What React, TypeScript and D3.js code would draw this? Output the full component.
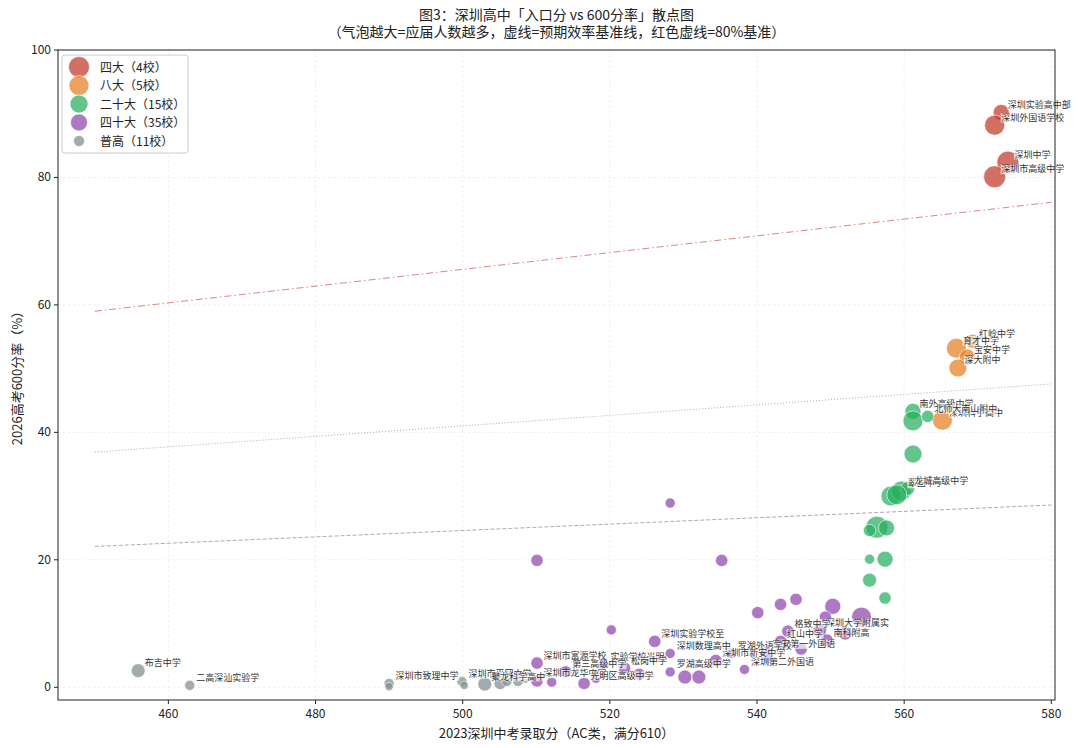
import { scaleLinear, scaleSqrt, line } from "d3";

// 图3：入口分 vs 600分率
const tiers = ["四大", "八大", "二十大", "四十大", "普高"];
const tierCounts = [4, 5, 15, 35, 11];
const tierColors = ["#c0392b", "#e67e22", "#27ae60", "#8e44ad", "#7f8c8d"];
const legendRadius = [10.5, 10, 9, 8.5, 5.5];

// 每所学校：名称(标签), 入口分, 600分率, 应届人数, 档次
const names = [
  "深圳实验高中部", "深圳外国语学校", "深圳中学", "深圳市高级中学",
  "红岭中学", "育才中学", "宝安中学", "深大附中", "深圳科学高中",
  "南外高级中学", "", "北师大南山附中", "", "", "翠园中学", "龙城高级中学", "", "", "", "", "", "", "", "",
  "", "", "", "", "", "", "", "", "",
  "深圳大学附属实", "南科附高", "格致中学", "红山中学", "宝安第一外国语", "深圳第二外国语", "罗湖外语学校", "深圳市新安中学",
  "深圳实验学校至", "深圳数理高中", "罗湖高级中学", "", "", "", "实验学校光明", "深圳市富源学校", "深圳市龙华中学", "",
  "光明区高级中学", "", "松岗中学", "第三高级中学", "", "", "", "",
  "布吉中学", "二高深汕实验学", "深圳市致理中学", "", "深圳市平冈中学", "聚龙科学高中", "", "", "", "", "",
];
const scores = [
  573.2, 572.3, 574.1, 572.3,
  569.3, 567.1, 568.6, 567.3, 565.2,
  561.2, 561.2, 563.2, 561.2, 558.2, 559.6, 560.5, 556.3, 555.3, 557.6, 555.3, 557.4, 555.3, 557.4, 559.0,
  528.2, 510.1, 535.2, 540.1, 543.2, 545.3, 550.3, 549.3, 554.2,
  548.5, 549.5, 544.2, 543.2, 541.2, 538.3, 536.5, 534.4,
  526.1, 528.2, 528.2, 530.2, 532.1, 520.2, 519.2, 510.1, 510.1, 512.1,
  516.5, 518.1, 522.0, 514.0, 524.0, 541.5, 546.0, 552.0,
  455.9, 462.9, 490.0, 490.0, 499.9, 503.0, 505.1, 506.0, 507.5, 500.2, 508.5,
];
const rates = [
  90.2, 88.2, 82.4, 80.1,
  54.3, 53.2, 51.8, 50.1, 41.9,
  43.3, 41.8, 42.5, 36.6, 30.0, 30.8, 31.2, 25.1, 24.6, 25.0, 20.1, 20.1, 16.8, 14.0, 30.2,
  28.9, 19.9, 19.9, 11.7, 13.0, 13.8, 12.7, 11.0, 11.0,
  8.9, 7.4, 8.8, 7.2, 5.6, 2.8, 5.3, 4.2,
  7.2, 5.3, 2.4, 1.6, 1.6, 9.0, 3.6, 3.8, 1.0, 0.8,
  0.6, 1.4, 3.0, 2.4, 2.0, 4.5, 6.0, 8.5,
  2.6, 0.3, 0.6, 0.1, 0.9, 0.5, 0.6, 0.9, 0.9, 0.3, 1.3,
];
const students = [
  560, 880, 1050, 1050,
  420, 860, 560, 700, 860,
  560, 860, 330, 700, 860, 860, 420, 1050, 330, 560, 220, 560, 420, 330, 860,
  220, 330, 330, 330, 330, 330, 560, 330, 860,
  420, 330, 330, 330, 220, 220, 220, 330,
  330, 220, 220, 420, 420, 220, 220, 330, 330, 220,
  330, 220, 330, 330, 330, 220, 330, 420,
  420, 220, 220, 150, 220, 420, 330, 220, 220, 150, 150,
];
const tierOf = tierCounts.flatMap((n, t) => Array.from({ length: n }, () => t));

// 基准线
const baseX = [450, 580];
const red80 = [59.0, 76.1];
const dotBase = [36.9, 47.6];
const dashBase = [22.1, 28.6];

const xTicks = [460, 480, 500, 520, 540, 560, 580];
const yTicks = [0, 20, 40, 60, 80, 100];

const FONT = "'Noto Sans CJK SC', 'Noto Sans', sans-serif";
const W = 1080;
const H = 748;
const M = { left: 58, right: 1055, top: 50, bottom: 700 };

const textWidth = (s: string, fs: number) =>
  Array.from(s).reduce((w, c) => w + (/[\u3000-\uffff]/.test(c) ? fs : fs * 0.58), 0);

export default function App() {
  const x = scaleLinear().domain([445, 580.5]).range([M.left, M.right]);
  const y = scaleLinear().domain([-2, 100]).range([M.bottom, M.top]);
  const r = scaleSqrt().domain([0, 1050]).range([0, 11]);

  const refLine = line<number>()
    .x((_, i) => x(baseX[i]))
    .y((d) => y(d));

  const points = scores.map((s, i) => ({
    name: names[i],
    cx: x(s),
    cy: y(rates[i]),
    r: r(students[i]),
    tier: tierOf[i],
  }));

  return (
    <svg width={W} height={H} style={{ display: "block", margin: "-8px", fontFamily: FONT }}>
      <rect width={W} height={H} fill="#fff" />
      <text x={(M.left + M.right) / 2} y={20} textAnchor="middle" fontSize={14} fill="#222">
        图3：深圳高中「入口分 vs 600分率」散点图
      </text>
      <text x={(M.left + M.right) / 2} y={37} textAnchor="middle" fontSize={14} fill="#222">
        （气泡越大=应届人数越多，虚线=预期效率基准线，红色虚线=80%基准）
      </text>

      {/* grid */}
      {xTicks.map((t) => (
        <line key={"gx" + t} x1={x(t)} x2={x(t)} y1={M.top} y2={M.bottom} stroke="#e6e6e6" strokeWidth={0.7} strokeDasharray="2.5,2.5" />
      ))}
      {yTicks.map((t) => (
        <line key={"gy" + t} x1={M.left} x2={M.right} y1={y(t)} y2={y(t)} stroke="#e6e6e6" strokeWidth={0.7} strokeDasharray="2.5,2.5" />
      ))}

      {/* baselines */}
      <path d={refLine(red80) ?? ""} fill="none" stroke="#c0392b" strokeOpacity={0.6} strokeWidth={1} strokeDasharray="7,3,1.5,3" />
      <path d={refLine(dotBase) ?? ""} fill="none" stroke="#999" strokeOpacity={0.8} strokeWidth={1} strokeDasharray="1,2" />
      <path d={refLine(dashBase) ?? ""} fill="none" stroke="#999" strokeOpacity={0.8} strokeWidth={1} strokeDasharray="4,2" />

      {/* bubbles */}
      {points.map((p, i) => (
        <circle key={"c" + i} cx={p.cx} cy={p.cy} r={p.r} fill={tierColors[p.tier]} fillOpacity={0.72} stroke="#fff" strokeWidth={0.6} />
      ))}

      {/* labels */}
      {points.map((p, i) => {
        if (!p.name) return null;
        const fs = 9;
        const lx = p.cx + 6.5;
        const ly = p.cy - 4.5;
        const w = textWidth(p.name, fs);
        return (
          <g key={"l" + i}>
            <rect x={lx - 0.5} y={ly - fs * 0.85} width={w + 1} height={fs * 1.05} fill="#fff" fillOpacity={0.65} />
            <text x={lx} y={ly} fontSize={fs} fill="#333">{p.name}</text>
          </g>
        );
      })}

      {/* frame */}
      <rect x={M.left} y={M.top} width={M.right - M.left} height={M.bottom - M.top} fill="none" stroke="#222" strokeWidth={1} />

      {/* axes ticks */}
      {xTicks.map((t) => (
        <g key={"tx" + t}>
          <line x1={x(t)} x2={x(t)} y1={M.bottom} y2={M.bottom + 4} stroke="#222" />
          <text x={x(t)} y={M.bottom + 18} textAnchor="middle" fontSize={12} fill="#222">{t}</text>
        </g>
      ))}
      {yTicks.map((t) => (
        <g key={"ty" + t}>
          <line x1={M.left - 4} x2={M.left} y1={y(t)} y2={y(t)} stroke="#222" />
          <text x={M.left - 7} y={y(t) + 4} textAnchor="end" fontSize={12} fill="#222">{t}</text>
        </g>
      ))}
      <text x={(M.left + M.right) / 2} y={738} textAnchor="middle" fontSize={13} fill="#222">
        2023深圳中考录取分（AC类，满分610）
      </text>
      <text transform={`translate(22, ${(M.top + M.bottom) / 2}) rotate(-90)`} textAnchor="middle" fontSize={13} fill="#222">
        2026高考600分率（%）
      </text>

      {/* legend */}
      <rect x={62} y={55} width={126} height={98} rx={3} fill="#fff" fillOpacity={0.85} stroke="#ccc" />
      {tiers.map((t, i) => (
        <g key={"lg" + t} transform={`translate(0, ${67 + i * 18.5})`}>
          <circle cx={79} cy={0} r={legendRadius[i]} fill={tierColors[i]} fillOpacity={0.72} stroke="#fff" strokeWidth={0.6} />
          <text x={100} y={4.5} fontSize={12} fill="#222">{`${t}（${tierCounts[i]}校）`}</text>
        </g>
      ))}
    </svg>
  );
}
